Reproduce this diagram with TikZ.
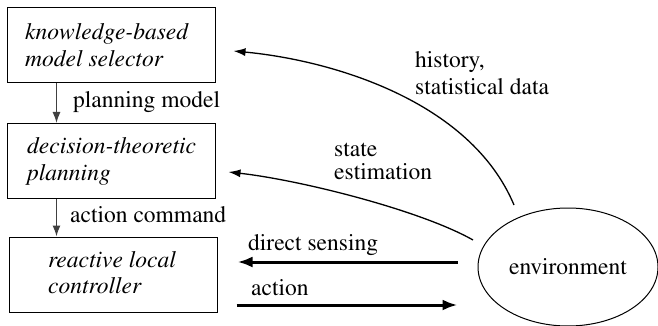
\documentclass[tikz,border=0pt]{standalone}
\usepackage[T1]{fontenc}
\usepackage{times}
\usetikzlibrary{arrows.meta,shapes.geometric,calc}
\begin{document}
\begin{tikzpicture}[x=1pt,y=-1pt,
  every node/.style={font=\fontsize{23.5}{27}\selectfont},
  module/.style={draw=black,line width=1pt,rectangle,minimum width=208,minimum height=75,inner sep=0pt},
  boxtext/.style={anchor=base west,inner sep=0pt,font=\fontsize{23.5}{27}\selectfont\itshape},
  tag/.style={anchor=base west,inner sep=0pt},
  thinarrow/.style={draw=black!75,line width=1.4pt,-{Latex[length=11pt,width=8pt]}},
  curvearrow/.style={draw=black,line width=1.3pt,-{Latex[length=12pt,width=8pt]}},
  thickarrow/.style={draw=black,line width=3pt,-{Latex[length=15pt,width=11pt]}}
]
\useasboundingbox (0,0) rectangle (658,326);

% the three layers of the controller
\node[module] (selector) at (111,45.5) {};
\node[module] (planner) at (111,161) {};
\node[module] (reactive) at (113,274.5) {};
\node[boxtext] (t1a) at (25,40) {knowledge-based};
\node[boxtext] (t1b) at (25,67) {model selector};
\node[boxtext] (t2a) at (27,153) {decision-theoretic};
\node[boxtext] (t2b) at (27,180) {planning};
\node[boxtext] (t3a) at (48,267) {reactive local};
\node[boxtext] (t3b) at (48,293) {controller};

% the world
\node[draw=black,line width=1pt,ellipse,minimum width=180,minimum height=118,inner sep=0pt]
  (env) at (568,267) {environment};

% top-down flow between layers
\draw[thinarrow] ($(selector.south west)+(50,0)$) coordinate (p1) -- (p1 |- planner.north);
\node[tag] (lplan) at (73,108) {planning model};
\draw[thinarrow] ($(planner.south west)+(50,0)$) coordinate (p2) -- (p2 |- reactive.north);
\node[tag] (lact) at (70,222) {action command};

% feedback from the environment
\coordinate (hstart) at ($(env.center)+(-54,-62)$);
\coordinate (hend) at ($(selector.east)+(18,5.5)$);
\draw[curvearrow] (hstart) .. controls (470,100) and (330,60) .. (hend);
\node[tag] (lhist1) at (415,68) {history,};
\node[tag] (lhist2) at (415,95) {statistical data};

\coordinate (sstart) at ($(env.center)+(-95,-27)$);
\coordinate (send) at ($(planner.east)+(13,11)$);
\draw[curvearrow] (sstart) .. controls (420,210) and (300,180) .. (send);
\node[tag] (lstate1) at (334,157) {state};
\node[tag] (lstate2) at (334,179) {estimation};

% direct coupling with the reactive layer
\draw[thickarrow] ($(env.west)+(-20,-5)$) -- ($(reactive.east)+(20,-12.5)$);
\node[tag] (lsense) at (248,250) {direct sensing};
\draw[thickarrow] ($(reactive.east)+(19,30.5)$) -- ($(env.west)+(-20,38)$);
\node[tag] (laction) at (251,295) {action};
\end{tikzpicture}
\end{document}
